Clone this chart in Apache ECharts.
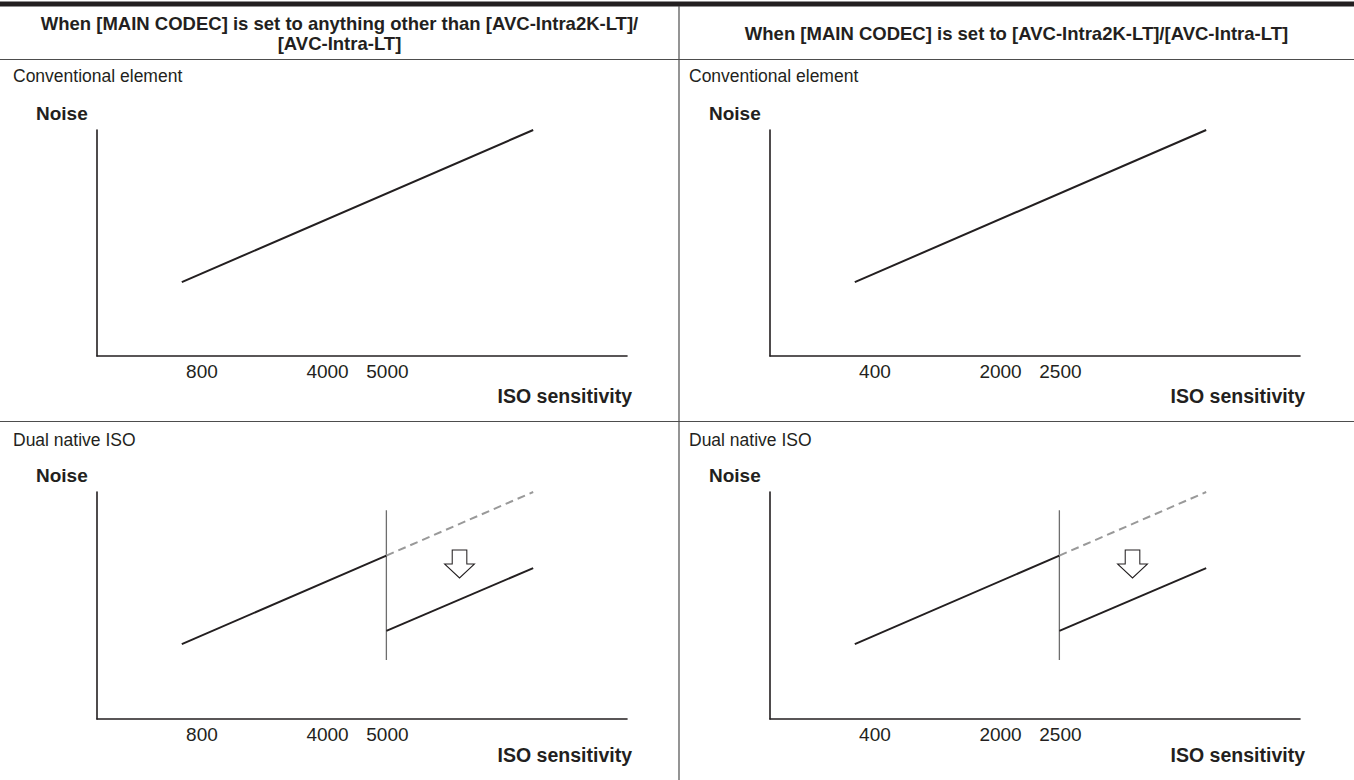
<!DOCTYPE html>
<html>
<head>
<meta charset="utf-8">
<script src="https://cdn.jsdelivr.net/npm/echarts@6/dist/echarts.min.js"></script>
<style>
html,body{margin:0;padding:0;background:#fff;}
#chart{width:1354px;height:780px;}
</style>
</head>
<body>
<div id="chart"></div>
<script>
// ---- Data ----
const headerLeft = ['When [MAIN CODEC] is set to anything other than [AVC-Intra2K-LT]/', '[AVC-Intra-LT]'];
const headerRight = ['When [MAIN CODEC] is set to [AVC-Intra2K-LT]/[AVC-Intra-LT]'];
const rowTitles = ['Conventional element', 'Dual native ISO'];
const yAxisName = 'Noise';
const xAxisName = 'ISO sensitivity';
const tickLabelsLeft = ['800', '4000', '5000'];
const tickLabelsRight = ['400', '2000', '2500'];
const tickPositions = [19.8, 43.5, 54.8];
// noise curves (x: relative position along the ISO axis, y: relative noise)
const conventionalLine = [[16.0, 32.7], [82.3, 100]];
const dualLowLine = [[16.0, 33.0], [54.6, 72.0]];
const dualDashedLine = [[54.6, 72.0], [82.3, 100]];
const dualHighLine = [[54.6, 38.8], [82.3, 66.5]];
const switchMarker = [[54.6, 26.0], [54.6, 92.0]];
const arrowPoint = [[68.4, 68.3]];

// ---- Layout ----
const INK = '#231f20';
const FONT = '"Liberation Sans", Arial, Helvetica, sans-serif';
const panels = [
  { left: 97, top: 130, height: 226, labels: tickLabelsLeft, dual: false, title: rowTitles[0], titleX: 13, titleY: 76, nameY: 396 },
  { left: 770, top: 130, height: 226, labels: tickLabelsRight, dual: false, title: rowTitles[0], titleX: 689, titleY: 76, nameY: 396 },
  { left: 97, top: 492, height: 227, labels: tickLabelsLeft, dual: true, title: rowTitles[1], titleX: 13, titleY: 440, nameY: 755 },
  { left: 770, top: 492, height: 227, labels: tickLabelsRight, dual: true, title: rowTitles[1], titleX: 689, titleY: 440, nameY: 755 }
];
const PW = 530;

const grid = [], xAxis = [], yAxis = [], series = [], graphic = [];

panels.forEach((p, i) => {
  grid.push({ left: p.left, top: p.top, width: PW, height: p.height, containLabel: false });
  xAxis.push({
    type: 'value', gridIndex: i, min: 0, max: 100,
    axisLine: { show: true, onZero: false, lineStyle: { color: INK, width: 1.6 } },
    axisTick: { show: false }, splitLine: { show: false },
    axisLabel: {
      customValues: tickPositions,
      formatter: (v) => { const k = tickPositions.indexOf(v); return k >= 0 ? p.labels[k] : ''; },
      color: INK, fontSize: 19, fontFamily: FONT, margin: 6
    }
  });
  yAxis.push({
    type: 'value', gridIndex: i, min: 0, max: 100,
    axisLine: { show: true, onZero: false, lineStyle: { color: INK, width: 1.6 } },
    axisTick: { show: false }, splitLine: { show: false }, axisLabel: { show: false }
  });
  const lineStyleSolid = { color: INK, width: 2 };
  if (!p.dual) {
    series.push({ type: 'line', xAxisIndex: i, yAxisIndex: i, data: conventionalLine, showSymbol: false, silent: true, lineStyle: lineStyleSolid });
  } else {
    series.push({ type: 'line', xAxisIndex: i, yAxisIndex: i, data: switchMarker, showSymbol: false, silent: true, lineStyle: { color: '#6e6e6e', width: 1.3 } });
    series.push({ type: 'line', xAxisIndex: i, yAxisIndex: i, data: dualLowLine, showSymbol: false, silent: true, lineStyle: lineStyleSolid });
    series.push({ type: 'line', xAxisIndex: i, yAxisIndex: i, data: dualDashedLine, showSymbol: false, silent: true, lineStyle: { color: '#999999', width: 2, type: [8, 5] } });
    series.push({ type: 'line', xAxisIndex: i, yAxisIndex: i, data: dualHighLine, showSymbol: false, silent: true, lineStyle: lineStyleSolid });
    series.push({
      type: 'scatter', xAxisIndex: i, yAxisIndex: i, data: arrowPoint, silent: true,
      symbol: 'path://M7.7,0 L22.3,0 L22.3,14 L30,14 L15,28 L0,14 L7.7,14 Z',
      symbolSize: [30, 28],
      itemStyle: { color: '#ffffff', borderColor: INK, borderWidth: 1, opacity: 1 }
    });
  }
  // row title and axis names
  graphic.push({ type: 'text', x: p.titleX, y: p.titleY, style: { text: p.title, font: '17.5px ' + FONT, fill: INK, verticalAlign: 'middle' } });
  graphic.push({ type: 'text', x: p.left - 61, y: p.top - 17, style: { text: yAxisName, font: 'bold 19px ' + FONT, fill: INK, verticalAlign: 'middle' } });
  graphic.push({ type: 'text', x: p.left + PW + 5, y: p.nameY, style: { text: xAxisName, font: 'bold 19.5px ' + FONT, fill: INK, align: 'right', verticalAlign: 'middle' } });
});

// Headers
graphic.push({ type: 'text', x: 339.5, y: 33, style: { text: headerLeft.join('\n'), font: 'bold 18.5px ' + FONT, fill: INK, align: 'center', verticalAlign: 'middle', lineHeight: 20 } });
graphic.push({ type: 'text', x: 1016.5, y: 33, style: { text: headerRight[0], font: 'bold 18.5px ' + FONT, fill: INK, align: 'center', verticalAlign: 'middle' } });

// Table rules
graphic.push({ type: 'rect', shape: { x: 0, y: 1.5, width: 1354, height: 5 }, style: { fill: INK } });
graphic.push({ type: 'line', shape: { x1: 0, y1: 59.5, x2: 1354, y2: 59.5 }, style: { stroke: '#4d4d4d', lineWidth: 1.2 } });
graphic.push({ type: 'line', shape: { x1: 0, y1: 421.5, x2: 1354, y2: 421.5 }, style: { stroke: '#4d4d4d', lineWidth: 1.2 } });
graphic.push({ type: 'line', shape: { x1: 679, y1: 6, x2: 679, y2: 780 }, style: { stroke: '#4d4d4d', lineWidth: 1.2 } });

const chart = echarts.init(document.getElementById('chart'), null, { renderer: 'svg' });
chart.setOption({
  animation: false,
  backgroundColor: '#ffffff',
  grid, xAxis, yAxis, series, graphic
});
</script>
</body>
</html>
